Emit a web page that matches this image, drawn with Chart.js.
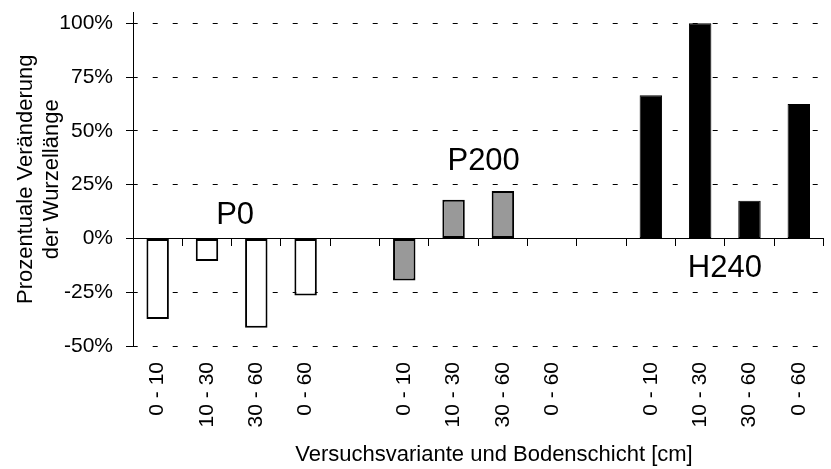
<!DOCTYPE html>
<html>
<head>
<meta charset="utf-8">
<script src="https://cdn.jsdelivr.net/npm/chart.js@4.4.0/dist/chart.umd.min.js"></script>
<style>
    html, body { margin: 0; padding: 0; overflow: hidden; background: #fff; }
    #wrap { width: 840px; height: 469px; }
</style>
</head>
<body>
<div id="wrap"><canvas id="rootChart" width="840" height="469"></canvas></div>
<script>
// soil layers per variant, one empty slot between the variants
const layers = ['0 - 10', '10 - 30', '30 - 60', '0 - 60'];
const groupNames = ['P0', 'P200', 'H240'];
const p0Values = [-37.5, -10.5, -41.5, -26.5];
const p200Values = [-19.5, 18, 22, null];
const h240Values = [66.5, 100, 17.5, 62.5];
const yTicks = [-50, -25, 0, 25, 50, 75, 100];
const yTitle = ['Prozentuale Veränderung', 'der Wurzellänge'];
const xTitle = 'Versuchsvariante und Bodenschicht [cm]';

const categories = [...layers, '', ...layers, '', ...layers];
const FONT = '"Liberation Sans", Arial, sans-serif';

function placeGroup(values, start) {
    const arr = new Array(categories.length).fill(null);
    values.forEach((v, i) => { arr[start + i] = v; });
    return arr;
}

// where the group names and the x title sit (category index, y value)
const groupLabelPos = [[1.57, 10.5], [6.61, 36], [11.5, -13.9]];

const textLabels = {
    id: 'textLabels',
    afterDraw(chart) {
        const { ctx, scales: { x, y } } = chart;
        ctx.save();
        ctx.fillStyle = '#000';
        ctx.textAlign = 'center';
        ctx.textBaseline = 'middle';
        ctx.font = '31px ' + FONT;
        groupNames.forEach((name, i) => {
            ctx.fillText(name, x.getPixelForValue(groupLabelPos[i][0]), y.getPixelForValue(groupLabelPos[i][1]));
        });
        ctx.font = '22px ' + FONT;
        ctx.fillText(xTitle, x.getPixelForValue(6.82), chart.height - 14);
        ctx.restore();
    }
};

Chart.defaults.font.family = FONT;
Chart.defaults.color = '#000';

const barStyle = { grouped: false, barPercentage: 0.455, categoryPercentage: 1, borderColor: '#000', borderSkipped: false };

new Chart(document.getElementById('rootChart').getContext('2d'), {
    type: 'bar',
    data: {
        labels: categories,
        datasets: [
            { label: groupNames[0], data: placeGroup(p0Values, 0), backgroundColor: '#ffffff', borderWidth: 2, ...barStyle },
            { label: groupNames[1], data: placeGroup(p200Values, 5), backgroundColor: '#999999', borderWidth: 2, ...barStyle },
            { label: groupNames[2], data: placeGroup(h240Values, 10), backgroundColor: '#000000', borderWidth: 1, ...barStyle }
        ]
    },
    options: {
        responsive: false,
        animation: false,
        layout: { padding: { top: 12.5, right: 0, bottom: 0, left: 0 } },
        plugins: {
            legend: { display: false },
            tooltip: { enabled: false }
        },
        scales: {
            x: {
                type: 'category',
                position: { y: 0 },
                offset: true,
                grid: { display: true, offset: true, drawOnChartArea: false, drawTicks: true, tickLength: 7, color: '#000', tickColor: '#000' },
                border: { display: true, color: '#000', width: 1 },
                ticks: { display: false }
            },
            x2: {
                type: 'category',
                labels: categories,
                position: 'bottom',
                offset: true,
                grid: { display: false, drawTicks: false },
                border: { display: false },
                ticks: { autoSkip: false, minRotation: 90, maxRotation: 90, padding: 16, color: '#000', font: { size: 21 } },
                afterFit: (scale) => { scale.height = 123; }
            },
            y: {
                position: 'left',
                min: -50,
                max: 105,
                afterBuildTicks: (scale) => { scale.ticks = yTicks.map(v => ({ value: v })); },
                afterFit: (scale) => {
                    scale.width = 133;
                    scale.paddingTop = 0;
                    scale.paddingBottom = 0;
                },
                ticks: { callback: v => v + '%', padding: 13, color: '#000', font: { size: 21 } },
                grid: { color: '#000', lineWidth: 1, tickLength: 7, tickColor: '#000', tickBorderDash: [] },
                border: { display: true, color: '#000', width: 1, dash: [5, 15], dashOffset: 1.3 },
                title: {
                    display: true,
                    text: yTitle,
                    color: '#000',
                    font: { size: 22, lineHeight: 1.18 },
                    padding: { top: 13, bottom: 0 }
                }
            }
        }
    },
    plugins: [textLabels]
});
</script>
</body>
</html>
